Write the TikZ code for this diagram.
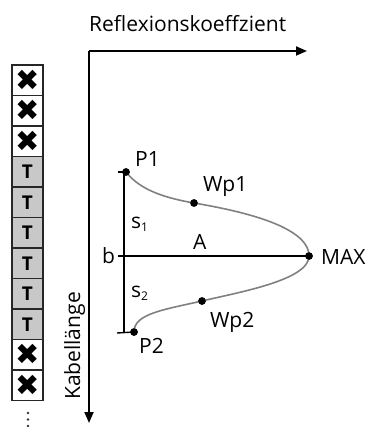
\documentclass[tikz,border=0pt]{standalone}
\usepackage{fontspec}
\setmainfont{Open Sans}
\newfontfamily\symfont{DejaVu Sans}
\usetikzlibrary{arrows.meta}
\definecolor{cellgray}{RGB}{200,200,200}
\definecolor{curvegray}{RGB}{128,128,128}
\begin{document}
\begin{tikzpicture}[x=1pt,y=-1pt,
  lbl/.style={font=\fontsize{21}{24}\selectfont, inner sep=0pt, anchor=base west},
  axis/.style={line width=1.8pt, -{Triangle[length=11pt,width=9pt]}},
  meas/.style={line width=1.4pt},
  curve/.style={line width=1.6pt, color=curvegray},
  dot/.style={circle, fill=black, inner sep=0pt, minimum size=7.5pt},
  cellx/.style={draw=black!85, line width=1.2pt, fill=white, minimum width=31pt, minimum height=30.5pt, inner sep=0pt, font=\symfont\fontsize{29}{29}\selectfont},
  cellt/.style={cellx, fill=cellgray, font=\bfseries\fontsize{19}{19}\selectfont},
  smalldot/.style={circle, fill=black!80, inner sep=0pt, minimum size=2.6pt}
]
\useasboundingbox (0,0) rectangle (372,427);
% axes
\coordinate (O) at (89,51);
\coordinate (xend) at (307,51);
\coordinate (yend) at (89,423);
\draw[axis] (O) -- (xend);
\draw[axis] (O) -- (yend);
\node[lbl] (xl) at (89,32) {Reflexionskoeffzient};
\node[lbl, rotate=90, anchor=base] (yl) at (80,346) {Kabellänge};
% cells
\foreach \i/\s in {0/cellx,1/cellx,2/cellx,3/cellt,4/cellt,5/cellt,6/cellt,7/cellt,8/cellt,9/cellx,10/cellx}{
  \ifnum\i<3 \def\t{\raisebox{-1pt}{✖}}\else\ifnum\i>8 \def\t{\raisebox{-1pt}{✖}}\else\def\t{T}\fi\fi
  \node[\s] (c\i) at (27.5,{80.25+30.5*\i}) {\t};
}
\node[smalldot] (d1) at (28,413) {};
\node[smalldot] (d2) at (28,419.5) {};
\node[smalldot] (d3) at (28,426) {};
% measurement lines
\coordinate (t1) at (118,172);
\coordinate (v1) at (124,172);
\coordinate (vb) at (124,256);
\coordinate (tb) at (118,256);
\coordinate (v2) at (124,333);
\coordinate (t2) at (117,333);
\node[dot] (P1) at (126,172) {};
\node[dot] (Wp1) at (194,203) {};
\node[dot] (MAX) at (309,256) {};
\node[dot] (Wp2) at (202,301) {};
\node[dot] (P2) at (134,332) {};
\draw[meas] (t1) -- (P1.center);
\draw[meas] (v1) -- (v2);
\draw[meas] (t2) -- (P2.center);
\draw[meas] (tb) -- (MAX.center);
% curve
\draw[curve] (P1.center) .. controls (140,190) and (165,198) .. (Wp1.center)
  .. controls (235,210) and (309,225) .. (MAX.center)
  .. controls (309,280) and (240,292) .. (Wp2.center)
  .. controls (162,310) and (134,314) .. (P2.center);
\node[dot] at (P1) {};
\node[dot] at (Wp1) {};
\node[dot] at (MAX) {};
\node[dot] at (Wp2) {};
\node[dot] at (P2) {};
% labels
\node[lbl] (lP1) at (135,167) {P1};
\node[lbl] (lWp1) at (203,192) {Wp1};
\node[lbl] (ls1) at (131,228) {s\raisebox{-3pt}{\fontsize{12}{12}\selectfont 1}};
\node[lbl] (lA) at (193,249) {A};
\node[lbl] (lb) at (102,263) {b};
\node[lbl] (lMAX) at (321,264) {MAX};
\node[lbl] (ls2) at (131,297) {s\raisebox{-3pt}{\fontsize{12}{12}\selectfont 2}};
\node[lbl] (lWp2) at (210,327) {Wp2};
\node[lbl] (lP2) at (139,353) {P2};
\end{tikzpicture}
\end{document}
